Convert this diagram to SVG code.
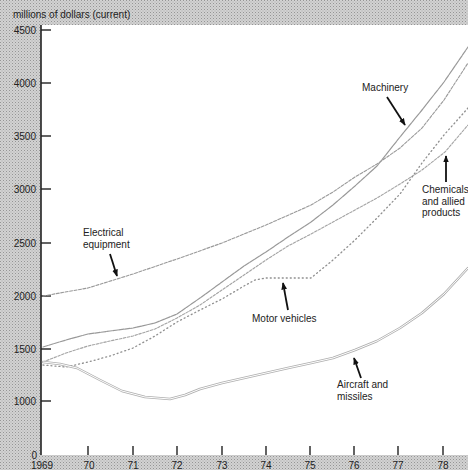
<svg xmlns="http://www.w3.org/2000/svg" width="468" height="470" viewBox="0 0 468 470">
<defs>
<pattern id="halftone" x="0" y="0" width="3" height="3" patternUnits="userSpaceOnUse">
<rect width="3" height="3" fill="#d2d2d2"/>
<rect x="0" y="0" width="1" height="1" fill="#959595"/>
<rect x="1.5" y="1.5" width="1" height="1" fill="#ababab"/>
</pattern>
<marker id="ah" viewBox="0 0 10 10" refX="9" refY="5" markerWidth="4" markerHeight="5" orient="auto" markerUnits="strokeWidth">
<path d="M0,1 L10,5 L0,9 Z" fill="#111"/>
</marker>
</defs>
<style>
text{font-family:"Liberation Sans",Arial,sans-serif;font-size:10px;fill:#222}
.yl{text-anchor:end}
.xl{text-anchor:middle}
.tick{stroke:#222;stroke-width:1.4}
.s{fill:none;stroke-linejoin:round;stroke-linecap:round}
.arr{stroke:#111;stroke-width:1.8;fill:none;marker-end:url(#ah)}
</style>
<rect x="0" y="0" width="468" height="470" fill="url(#halftone)"/>
<rect x="41" y="25" width="427" height="430" fill="#ffffff"/>
<line x1="41" y1="25" x2="41" y2="455" stroke="#222" stroke-width="1.6"/>
<g id="axes">
<text x="13" y="18">millions of dollars (current)</text>
<text x="36" y="34" class="yl">4500</text>
<text x="36" y="87" class="yl">4000</text>
<text x="36" y="140" class="yl">3500</text>
<text x="36" y="193" class="yl">3000</text>
<text x="36" y="247" class="yl">2500</text>
<text x="36" y="300" class="yl">2000</text>
<text x="36" y="353" class="yl">1500</text>
<text x="36" y="405" class="yl">1000</text>
<text x="37" y="459" class="yl">0</text>
<line class="tick" x1="41" y1="30" x2="51" y2="30"/>
<line class="tick" x1="41" y1="83" x2="51" y2="83"/>
<line class="tick" x1="41" y1="136" x2="51" y2="136"/>
<line class="tick" x1="41" y1="189" x2="51" y2="189"/>
<line class="tick" x1="41" y1="243" x2="51" y2="243"/>
<line class="tick" x1="41" y1="296" x2="51" y2="296"/>
<line class="tick" x1="41" y1="349" x2="51" y2="349"/>
<line class="tick" x1="41" y1="401" x2="51" y2="401"/>
<line class="tick" x1="88" y1="446" x2="88" y2="455"/>
<line class="tick" x1="133" y1="446" x2="133" y2="455"/>
<line class="tick" x1="177" y1="446" x2="177" y2="455"/>
<line class="tick" x1="222" y1="446" x2="222" y2="455"/>
<line class="tick" x1="266" y1="446" x2="266" y2="455"/>
<line class="tick" x1="310" y1="446" x2="310" y2="455"/>
<line class="tick" x1="354" y1="446" x2="354" y2="455"/>
<line class="tick" x1="398" y1="446" x2="398" y2="455"/>
<line class="tick" x1="443" y1="446" x2="443" y2="455"/>
<text x="42" y="469" class="xl">1969</text>
<text x="89" y="469" class="xl">70</text>
<text x="133" y="469" class="xl">71</text>
<text x="177" y="469" class="xl">72</text>
<text x="222" y="469" class="xl">73</text>
<text x="266" y="469" class="xl">74</text>
<text x="310" y="469" class="xl">75</text>
<text x="354" y="469" class="xl">76</text>
<text x="398" y="469" class="xl">77</text>
<text x="443" y="469" class="xl">78</text>
</g>
<g id="series">
<polyline id="electrical-line" class="s" stroke="#9a9a9a" stroke-width="1.1" stroke-dasharray="3 1.5" points="43,296 88,288 133,274 177,259 222,243 266,225 300,210 311,205 333,192 355,177 377,164 400,148 422,128 444,100 468,63"/>
<polyline id="machinery-line" class="s" stroke="#999999" stroke-width="1.2" stroke-dasharray="5 1" points="43,347 66,340 88,334 110,331 133,328 155,323 177,314 200,298 222,282 244,266 266,252 288,237 311,222 333,205 355,186 377,166 400,137 422,110 444,82 468,47"/>
<polyline id="chemicals-line" class="s" stroke="#a4a4a4" stroke-width="1.1" stroke-dasharray="2.5 1.5" points="43,362 66,353 88,346 110,341 133,336 155,329 177,318 200,305 222,290 244,275 266,260 288,246 311,234 333,222 355,210 377,198 400,184 422,170 445,152 468,125"/>
<polyline id="motor-line" class="s" stroke="#8f8f8f" stroke-width="1.3" stroke-dasharray="1 3" points="43,365 66,367 88,362 110,356 133,348 155,336 177,322 200,310 222,299 244,286 255,280 266,278 288,278 311,278 333,260 355,240 377,218 400,194 422,163 444,135 468,108"/>
<polyline id="aircraft-line-outer" class="s" stroke="#b0b0b0" stroke-width="2.5" points="43,362 60,364 77,368 100,380 122,391 145,397 170,399 185,395 200,389 222,383 244,378 266,373 288,368 311,363 333,358 355,350 377,341 400,328 422,313 444,294 468,268"/>
<polyline id="aircraft-line-inner" class="s" stroke="#ffffff" stroke-width="1" points="43,362 60,364 77,368 100,380 122,391 145,397 170,399 185,395 200,389 222,383 244,378 266,373 288,368 311,363 333,358 355,350 377,341 400,328 422,313 444,294 468,268"/>
</g>
<g id="connectors">
<line class="arr" x1="110" y1="254" x2="117" y2="276"/>
<line class="arr" x1="387" y1="97" x2="405" y2="125"/>
<line class="arr" x1="446" y1="182" x2="446" y2="156"/>
<line class="arr" x1="288" y1="310" x2="283" y2="283"/>
<line class="arr" x1="361" y1="378" x2="354" y2="358"/>
</g>
<g id="electrical">
<text x="83" y="236">Electrical</text>
<text x="83" y="248">equipment</text>
</g>
<g id="machinery">
<text x="362" y="91">Machinery</text>
</g>
<g id="chemicals">
<text x="422" y="193">Chemicals</text>
<text x="422" y="205">and allied</text>
<text x="422" y="216">products</text>
</g>
<g id="motor-vehicles">
<text x="252" y="322">Motor vehicles</text>
</g>
<g id="aircraft">
<text x="337" y="388">Aircraft and</text>
<text x="337" y="400">missiles</text>
</g>
</svg>
